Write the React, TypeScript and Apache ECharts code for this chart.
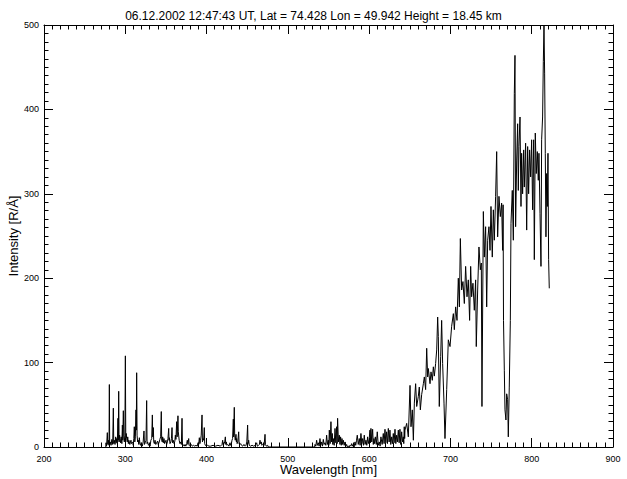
import React, { useEffect, useRef } from "react";
import * as echarts from "echarts";

const titleText = "06.12.2002 12:47:43 UT, Lat = 74.428 Lon = 49.942 Height = 18.45 km";
const xTitle = "Wavelength [nm]";
const yTitle = "Intensity [R/Å]";

// UV region (sparse emission spikes)
const uvWavelength = [
  276.0, 276.3, 277.0, 277.9, 278.5, 279.2, 280.0, 280.4, 280.8, 281.5, 282.5, 283.5, 284.5, 285.3, 285.8,
  286.5, 287.4, 288.2, 288.8, 289.4, 290.2, 291.0, 291.4, 291.9, 292.4, 293.0, 293.5, 294.2, 295.0, 295.8,
  296.4, 296.9, 297.6, 298.2, 298.8, 299.5, 300.1, 300.6, 301.2, 301.7, 302.4, 303.0, 303.8, 304.4, 305.0,
  305.6, 306.3, 307.0, 307.6, 308.3, 309.1, 309.8, 310.5, 311.1, 311.7, 312.4, 313.2, 313.6, 314.0, 314.5,
  315.2, 316.0, 316.6, 317.3, 318.0, 318.8, 319.5, 320.2, 321.0, 322.0, 323.0, 323.6, 324.5, 325.5, 326.3,
  326.8, 327.5, 328.5, 329.6, 330.5, 331.5, 332.5, 333.3, 333.8, 334.5, 335.0, 335.8, 336.6, 337.5, 338.5,
  339.8, 340.5, 341.5, 342.5, 343.5, 344.3, 344.8, 345.5, 346.0, 346.8, 347.6, 348.4, 349.2, 350.1, 350.9,
  351.8, 352.5, 353.4, 353.8, 354.2, 355.0, 356.0, 356.8, 357.5, 358.0, 359.0, 360.0, 361.0, 361.6, 362.3,
  363.2, 363.8, 364.8, 365.2, 365.7, 366.3, 367.2, 368.2, 369.0, 369.8, 370.3, 371.5, 372.5, 373.5, 374.5,
  375.5, 376.3, 377.0, 378.0, 378.6, 379.5, 381.0, 382.5, 384.0, 385.5, 387.0, 388.5, 389.5, 390.3, 391.1,
  391.8, 392.6, 393.4, 394.4, 394.9, 395.6, 396.4, 397.2, 397.7, 398.5, 399.5, 401.0, 403.0, 405.0, 408.0,
  411.0, 414.0, 417.0, 419.0, 419.8, 420.5, 421.5, 422.3, 423.1, 423.6, 424.3, 425.0, 426.0, 427.5, 428.8,
  429.5, 430.5, 431.3, 432.0, 432.9, 433.3, 434.1, 434.6, 435.3, 436.2, 436.7, 437.0, 437.6, 438.4, 439.5,
  440.0, 441.0, 441.9, 443.0, 444.5, 446.0, 447.5, 448.5, 449.5, 450.5, 451.0, 451.8, 452.5, 454.0, 456.0,
  458.0, 460.0, 461.6, 462.5, 464.0, 465.0, 465.7, 466.4, 467.3, 468.0, 469.0, 469.8, 470.8, 471.9, 472.4,
  473.5, 475.1, 476.0,
];
const uvIntensity = [
  0, 5, 1, 17, 3, 8, 2, 74, 3, 6, 2, 9, 3, 46, 4,
  8, 3, 12, 5, 10, 4, 34, 8, 66, 6, 14, 10, 5, 12, 4,
  26, 8, 43, 12, 6, 14, 108, 10, 16, 10, 6, 12, 4, 8, 8,
  3, 6, 8, 4, 5, 6, 2, 10, 24, 6, 12, 44, 20, 88, 14,
  6, 8, 3, 11, 4, 2, 5, 4, 1, 6, 19, 3, 5, 8, 55,
  4, 6, 2, 4, 1, 8, 10, 38, 12, 23, 6, 4, 8, 3, 5,
  7, 3, 5, 9, 12, 42, 8, 6, 12, 5, 10, 4, 6, 8, 3,
  6, 10, 22, 8, 11, 4, 6, 10, 23, 5, 8, 4, 7, 14, 9,
  30, 12, 37, 18, 18, 8, 4, 6, 3, 34, 4, 2, 1, 3, 1,
  4, 8, 3, 10, 2, 1, 3, 1, 2, 1, 2, 1, 5, 3, 11,
  4, 8, 14, 38, 6, 10, 8, 23, 4, 2, 1, 2, 1, 1, 2,
  1, 2, 1, 3, 8, 2, 4, 6, 12, 3, 6, 2, 3, 1, 5,
  2, 4, 8, 10, 33, 12, 47, 14, 8, 15, 6, 10, 4, 6, 18,
  4, 3, 4, 2, 1, 3, 1, 2, 6, 26, 4, 8, 2, 1, 2,
  1, 2, 5, 1, 2, 3, 8, 4, 6, 2, 3, 4, 2, 15, 3,
  1, 2, 0,
];

// Visible region (weak continuum)
const visWavelength = [
  533.0, 533.4, 534.4, 535.4, 536.4, 537.5, 538.5, 539.5, 540.5, 541.6, 542.6, 543.6, 544.6, 545.7, 546.7,
  547.7, 548.7, 549.8, 550.4, 551.0, 552.0, 553.0, 553.8, 554.7, 555.3, 555.9, 557.0, 558.0, 559.0, 560.0,
  560.6, 561.2, 562.2, 563.3, 564.1, 564.9, 565.7, 566.6, 567.4, 568.2, 569.3, 570.3, 571.3, 572.3, 573.3,
  574.4, 575.4, 576.4, 577.4, 578.5, 579.5, 580.5, 581.5, 582.6, 583.5, 584.5, 585.4, 586.6, 587.9, 588.9,
  589.9, 591.0, 592.0, 593.0, 594.0, 595.0, 596.1, 597.1, 598.1, 599.0, 600.0, 601.0, 601.6, 602.2, 603.2,
  604.3, 605.1, 605.9, 606.7, 607.6, 608.8, 610.0, 611.2, 612.5, 613.5, 614.5, 616.0, 617.4, 618.4, 619.5,
  620.5, 621.5, 622.5, 623.6, 624.6, 625.6, 626.6, 627.7, 628.7, 629.7, 630.7, 631.8, 632.8, 633.8, 634.8,
  635.9, 636.9, 637.9, 638.9, 640.0, 641.0, 642.0, 642.6, 643.2, 643.7,
];
const visIntensity = [
  0, 3, 1, 8, 2, 5, 1, 10, 2, 6, 1, 9, 3, 5, 2,
  14, 3, 8, 2, 20, 4, 30, 6, 16, 3, 10, 2, 22, 5, 24,
  4, 34, 6, 14, 3, 12, 2, 10, 3, 8, 2, 6, 1, 3, 0,
  1, 0, 2, 1, 4, 1, 3, 0, 6, 2, 8, 14, 3, 10, 2,
  16, 4, 10, 2, 14, 3, 8, 2, 12, 4, 9, 20, 5, 22, 6,
  21, 3, 10, 4, 12, 3, 18, 2, 6, 1, 12, 3, 16, 4, 21,
  5, 18, 4, 22, 6, 20, 3, 12, 4, 16, 5, 21, 4, 14, 6,
  20, 5, 21, 3, 18, 6, 12, 4, 24, 10,
];

// Red rise and O2 B-band
const redWavelength = [
  644.1, 646.2, 648.2, 650.3, 651.5, 653.1, 654.4, 655.6, 657.2, 658.5, 660.5, 661.7, 663.0, 664.6, 666.7,
  667.9, 669.5, 670.8, 672.0, 672.8, 674.9, 676.1, 677.7, 679.0, 680.2, 681.8, 683.1, 684.3, 685.1, 686.3,
  688.0, 689.2, 690.4, 692.1, 693.3, 695.4, 697.4, 699.5, 701.5, 703.6, 704.8, 706.4, 708.1, 709.7, 711.0,
  712.2, 713.8, 715.4, 717.1, 718.7, 720.4, 722.0, 723.6, 724.9, 726.1, 727.7, 729.4, 731.0, 731.8, 733.5,
  735.1, 736.8, 738.0, 738.8, 740.5, 741.7, 743.3, 744.6, 745.8, 747.4, 748.7, 749.9, 751.5, 752.8, 754.0,
  755.6, 756.9, 758.1, 759.7, 761.4, 763.0, 764.2, 764.8,
];
const redIntensity = [
  20, 28, 12, 73, 24, 44, 8, 52, 75, 48, 60, 71, 44, 62, 75,
  83, 68, 117, 83, 93, 75, 89, 79, 95, 84, 99, 115, 154, 131, 48,
  107, 150, 99, 52, 10, 68, 127, 119, 143, 158, 139, 166, 150, 200, 166,
  247, 186, 196, 170, 214, 178, 198, 150, 214, 178, 194, 162, 198, 119, 186,
  237, 210, 218, 48, 279, 225, 261, 166, 245, 261, 233, 285, 225, 281, 245,
  297, 350, 249, 297, 273, 289, 233, 287,
];

// O2 A-band and near infrared
const nirWavelength = [
  765.3, 766.3, 767.1, 768.3, 769.2, 770.4, 771.2, 772.4, 773.7, 774.5, 776.1, 777.4, 778.6, 779.4, 780.2,
  781.5, 782.7, 783.5, 784.3, 785.6, 786.8, 787.6, 788.8, 790.1, 790.9, 792.5, 793.8, 795.0, 796.2, 797.4,
  798.7, 799.9, 801.1, 802.4, 803.2, 804.4, 805.6, 806.9, 808.1, 808.9, 810.2, 811.4, 812.2, 813.4, 814.3,
  815.1, 815.9, 816.7, 817.5, 818.4, 819.2, 820.0, 820.8, 821.6,
];
const nirIntensity = [
  150, 91, 44, 32, 63, 56, 12, 71, 150, 265, 304, 245, 419, 464, 261,
  340, 383, 304, 356, 391, 285, 348, 300, 352, 308, 360, 257, 356, 300, 352,
  320, 364, 281, 364, 222, 372, 324, 350, 316, 348, 277, 214, 364, 391, 457,
  500, 443, 348, 249, 324, 285, 348, 222, 188,
];

const xTickMin = 200;
const xTickMax = 900;
const yTickMin = 0;
const yTickMax = 500;

function zip(w: number[], v: number[]) {
  return w.map((x, i) => [x, v[i]]);
}

export default function App() {
  const ref = useRef<HTMLDivElement>(null);
  useEffect(() => {
    if (!ref.current) return;
    const chart = echarts.init(ref.current, undefined, { renderer: "svg" });
    const data = [
      ...zip(uvWavelength, uvIntensity),
      ...zip(visWavelength, visIntensity),
      ...zip(redWavelength, redIntensity),
      ...zip(nirWavelength, nirIntensity),
    ];
    const font = "Liberation Sans, Arial, Helvetica, sans-serif";
    const lineStyle = { color: "#000", width: 1 };
    const baseAxis = {
      type: "value" as const,
      axisLine: { show: true, onZero: false, lineStyle },
      axisTick: { show: true, inside: true, length: 9, lineStyle },
      minorTick: { show: true, splitNumber: 10, length: 4.5, lineStyle },
      splitLine: { show: false },
      minorSplitLine: { show: false },
    };
    chart.setOption({
      animation: false,
      title: {
        text: titleText,
        left: "center",
        top: 5,
        textStyle: { fontSize: 12, fontWeight: "normal", fontFamily: font, color: "#000" },
      },
      grid: {
        left: 44,
        top: 25,
        width: 569,
        height: 422,
        containLabel: false,
        outerBoundsMode: "none",
      },
      xAxis: [
        {
          ...baseAxis,
          min: xTickMin,
          max: xTickMax,
          interval: 100,
          position: "bottom",
          name: xTitle,
          nameLocation: "middle",
          nameGap: 16,
          nameMoveOverlap: false,
          nameTextStyle: { fontSize: 13, color: "#000", fontFamily: font, verticalAlign: "top" },
          axisLabel: { fontSize: 9, color: "#000", fontFamily: font, margin: 7 },
        },
        {
          ...baseAxis,
          min: xTickMin,
          max: xTickMax,
          interval: 100,
          position: "top",
          axisLabel: { show: false },
        },
      ],
      yAxis: [
        {
          ...baseAxis,
          min: yTickMin,
          max: yTickMax,
          interval: 100,
          position: "left",
          name: yTitle,
          nameLocation: "middle",
          nameGap: 24,
          nameMoveOverlap: false,
          nameTextStyle: { fontSize: 13, color: "#000", fontFamily: font },
          axisLabel: { fontSize: 9, color: "#000", fontFamily: font, margin: 5 },
        },
        {
          ...baseAxis,
          min: yTickMin,
          max: yTickMax,
          interval: 100,
          position: "right",
          axisLabel: { show: false },
        },
      ],
      series: [
        {
          type: "line",
          data,
          xAxisIndex: 0,
          yAxisIndex: 0,
          showSymbol: false,
          symbol: "none",
          silent: true,
          lineStyle: { color: "#000", width: 1 },
        },
      ],
    });
    return () => chart.dispose();
  }, []);
  return (
    <div
      ref={ref}
      style={{ position: "fixed", left: 0, top: 0, width: 627, height: 479, background: "#fff" }}
    />
  );
}
